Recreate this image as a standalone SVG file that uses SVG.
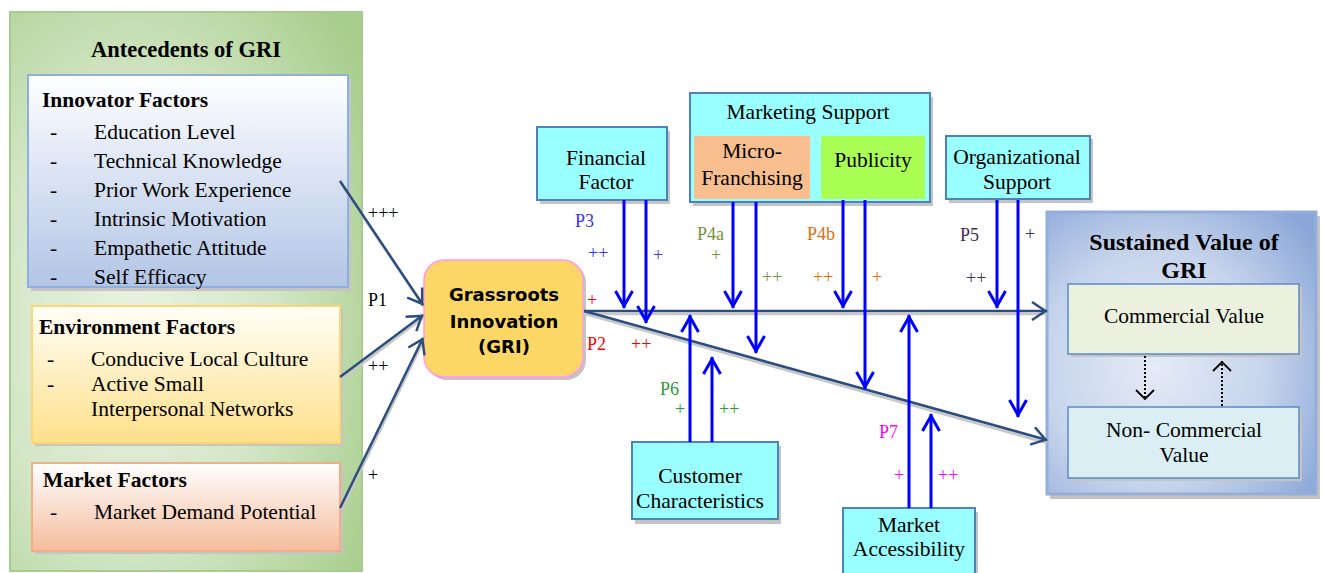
<svg xmlns="http://www.w3.org/2000/svg" width="1322" height="573" viewBox="0 0 1322 573">
<style>
text{font-family:"Liberation Serif","Times New Roman",serif;fill:#000}
.t{font-size:21.5px}
.c{text-anchor:middle}
.h{font-size:21.5px;font-weight:bold}
.lbl{font-size:18px}
.sh{fill:#C4C4C4}
.cyan{fill:#99FFFF;stroke:#4F81BD;stroke-width:2}
.nav{stroke:#2C4E7F;stroke-width:2.5;fill:none}
.navs{stroke:#C8C8C8;stroke-width:2.5;fill:none}
.blu{stroke:#0000FF;stroke-width:3;fill:none}
.dot{stroke:#000;stroke-width:2;stroke-dasharray:2 2;fill:none}
</style>
<defs>
<radialGradient id="gOuter" cx="0.35" cy="0.55" r="0.8">
<stop offset="0" stop-color="#EAF2E3"/><stop offset="0.5" stop-color="#D3E6C6"/><stop offset="1" stop-color="#A6CD8A"/>
</radialGradient>
<linearGradient id="gInn" x1="0" y1="0" x2="0" y2="1">
<stop offset="0" stop-color="#FFFFFF"/><stop offset="1" stop-color="#B2C5E6"/>
</linearGradient>
<linearGradient id="gEnv" x1="0" y1="0" x2="0" y2="1">
<stop offset="0" stop-color="#FFFEF8"/><stop offset="1" stop-color="#FFE08A"/>
</linearGradient>
<linearGradient id="gMkt" x1="0" y1="0" x2="0" y2="1">
<stop offset="0" stop-color="#FFFFFF"/><stop offset="1" stop-color="#F5BC9C"/>
</linearGradient>
<radialGradient id="gSus" cx="0.4" cy="0.55" r="0.75">
<stop offset="0" stop-color="#E4EBF6"/><stop offset="0.55" stop-color="#C6D4EC"/><stop offset="1" stop-color="#8AA6D8"/>
</radialGradient>
<marker id="mBlue" markerUnits="userSpaceOnUse" markerWidth="24" markerHeight="24" viewBox="-20 -12 24 24" refX="0" refY="0" orient="auto">
<path d="M-17,-8.5 L-2,0 L-17,8.5" stroke="#0000FF" stroke-width="3" fill="none"/>
</marker>
<marker id="mNav" markerUnits="userSpaceOnUse" markerWidth="24" markerHeight="24" viewBox="-20 -12 24 24" refX="0" refY="0" orient="auto">
<path d="M-15,-9 L-1.5,0 L-15,9" stroke="#2C4E7F" stroke-width="2.5" fill="none"/>
</marker>
<marker id="mDot" markerUnits="userSpaceOnUse" markerWidth="24" markerHeight="24" viewBox="-14 -12 16 24" refX="0" refY="0" orient="auto">
<path d="M-10,-9 L-1,0 L-10,9" stroke="#000" stroke-width="1.8" fill="none"/>
</marker>
</defs>

<rect width="1322" height="573" fill="#FFFFFF"/>

<g id="antecedents">
<rect x="10" y="12" width="352" height="559" fill="url(#gOuter)" stroke="#A8CB8E" stroke-width="2"/>
<text x="186" y="57" class="c" style="font-size:22.5px;font-weight:bold">Antecedents of GRI</text>
</g>

<g id="innovator">
<rect x="31" y="78" width="320" height="213" class="sh"/>
<rect x="28" y="75" width="320" height="212" fill="url(#gInn)" stroke="#8EB0E0" stroke-width="2"/>
<text x="42" y="107" class="h">Innovator Factors</text>
<g class="t">
<text x="50" y="139" class="t">-</text><text x="94" y="139" class="t">Education Level</text>
<text x="50" y="168" class="t">-</text><text x="94" y="168" class="t">Technical Knowledge</text>
<text x="50" y="197" class="t">-</text><text x="94" y="197" class="t">Prior Work Experience</text>
<text x="50" y="226" class="t">-</text><text x="94" y="226" class="t">Intrinsic Motivation</text>
<text x="50" y="255" class="t">-</text><text x="94" y="255" class="t">Empathetic Attitude</text>
<text x="50" y="284" class="t">-</text><text x="94" y="284" class="t">Self Efficacy</text>
</g>
</g>

<g id="environment">
<rect x="35" y="309" width="308" height="137" class="sh"/>
<rect x="32" y="306" width="308" height="137" fill="url(#gEnv)" stroke="#FAD774" stroke-width="2"/>
<text x="39" y="334" class="h">Environment Factors</text>
<text x="47" y="366" class="t">-</text><text x="91" y="366" class="t">Conducive Local Culture</text>
<text x="47" y="391" class="t">-</text><text x="91" y="391" class="t">Active Small</text>
<text x="91" y="416" class="t">Interpersonal Networks</text>
</g>

<g id="market">
<rect x="35" y="466" width="308" height="88" class="sh"/>
<rect x="32" y="463" width="308" height="88" fill="url(#gMkt)" stroke="#F4AE86" stroke-width="2"/>
<text x="43" y="487" class="h">Market Factors</text>
<text x="50" y="519" class="t">-</text><text x="94" y="519" class="t">Market Demand Potential</text>
</g>

<g id="gri">
<rect x="427" y="263" width="159" height="117" rx="20" class="sh"/>
<rect x="424" y="260" width="159" height="117" rx="20" fill="#FDD766" stroke="#FF99EE" stroke-width="1.5"/>
<g style="font-family:'DejaVu Sans',Verdana,sans-serif;font-weight:bold;font-size:18px">
<text x="504" y="301" class="c" style="font-family:'DejaVu Sans',Verdana,sans-serif">Grassroots</text>
<text x="504" y="328" class="c" style="font-family:'DejaVu Sans',Verdana,sans-serif">Innovation</text>
<text x="504" y="353" class="c" style="font-family:'DejaVu Sans',Verdana,sans-serif">(GRI)</text>
</g>
</g>

<g id="financial">
<rect x="540" y="131" width="130" height="73" class="sh"/>
<rect x="537" y="127" width="130" height="73" class="cyan"/>
<text x="606" y="165" class="t c">Financial</text>
<text x="606" y="189" class="t c">Factor</text>
</g>

<g id="marketing">
<rect x="693" y="97" width="240" height="109" class="sh"/>
<rect x="690" y="93" width="240" height="109" class="cyan"/>
<text x="808" y="119" class="t c">Marketing Support</text>
<g id="microfranchising">
<rect x="694" y="136" width="116" height="63" fill="#F8BE8E"/>
<text x="752" y="158" class="t c">Micro-</text>
<text x="752" y="185" class="t c">Franchising</text>
</g>
<g id="publicity">
<rect x="821" y="136" width="104" height="63" fill="#AAFF55"/>
<text x="873" y="167" class="t c">Publicity</text>
</g>
</g>

<g id="organizational">
<rect x="949" y="139" width="144" height="64" class="sh"/>
<rect x="946" y="136" width="144" height="63" class="cyan"/>
<text x="1017" y="164" class="t c">Organizational</text>
<text x="1017" y="189" class="t c">Support</text>
</g>

<g id="customer">
<rect x="635" y="446" width="146" height="78" class="sh"/>
<rect x="632" y="442" width="146" height="77" class="cyan"/>
<text x="700" y="483" class="t c">Customer</text>
<text x="700" y="508" class="t c">Characteristics</text>
</g>

<g id="market-access">
<rect x="846" y="512" width="132" height="70" class="sh"/>
<rect x="843" y="508" width="132" height="70" class="cyan"/>
<text x="909" y="532" class="t c">Market</text>
<text x="909" y="556" class="t c">Accessibility</text>
</g>

<g id="sustained">
<rect x="1050" y="216" width="270" height="283" class="sh"/>
<rect x="1047" y="212" width="269" height="282" fill="url(#gSus)" stroke="#93AEDA" stroke-width="3"/>
<text x="1184" y="250" class="c" style="font-size:24px;font-weight:bold">Sustained Value of</text>
<text x="1184" y="278" class="c" style="font-size:24px;font-weight:bold">GRI</text>
<g id="commercial">
<rect x="1071" y="287" width="231" height="70" class="sh"/>
<rect x="1068" y="284" width="231" height="70" fill="#EBF1DE" stroke="#5B8BC8" stroke-width="1.5"/>
<text x="1184" y="323" class="t c">Commercial Value</text>
</g>
<g id="noncommercial">
<rect x="1071" y="410" width="231" height="71" class="sh"/>
<rect x="1068" y="407" width="231" height="71" fill="#DAEEF3" stroke="#5B8BC8" stroke-width="1.5"/>
<text x="1184" y="437" class="t c">Non- Commercial</text>
<text x="1184" y="462" class="t c">Value</text>
</g>
<path d="M1145,356 L1145,400" class="dot" marker-end="url(#mDot)"/>
<path d="M1222,406 L1222,361" class="dot" marker-end="url(#mDot)"/>
</g>

<g id="connectors">
<g>
<path d="M341,184 L424,307" class="navs"/>
<path d="M341,380 L424,317" class="navs"/>
<path d="M341,511 L424,340" class="navs"/>
<path d="M585,314 L1047,314" class="navs"/>
<path d="M585,314 L1047,443" class="navs"/>
</g>
<path d="M340,181 L423,305" class="nav" marker-end="url(#mNav)"/>
<path d="M340,377 L423,315" class="nav" marker-end="url(#mNav)"/>
<path d="M340,508 L423,338" class="nav" marker-end="url(#mNav)"/>
<path d="M584,311 L1047,311" class="nav" marker-end="url(#mNav)"/>
<path d="M584,311 L1047,440" class="nav" marker-end="url(#mNav)"/>

<path d="M624,200 L624,308" class="blu" marker-end="url(#mBlue)"/>
<path d="M646,200 L646,323" class="blu" marker-end="url(#mBlue)"/>
<path d="M733,202 L733,308" class="blu" marker-end="url(#mBlue)"/>
<path d="M756,202 L756,353" class="blu" marker-end="url(#mBlue)"/>
<path d="M843,200 L843,308" class="blu" marker-end="url(#mBlue)"/>
<path d="M865,200 L865,389" class="blu" marker-end="url(#mBlue)"/>
<path d="M997,200 L997,308" class="blu" marker-end="url(#mBlue)"/>
<path d="M1018,200 L1018,417" class="blu" marker-end="url(#mBlue)"/>
<path d="M690,442 L690,315" class="blu" marker-end="url(#mBlue)"/>
<path d="M712,442 L712,357" class="blu" marker-end="url(#mBlue)"/>
<path d="M909,508 L909,315" class="blu" marker-end="url(#mBlue)"/>
<path d="M931,508 L931,414" class="blu" marker-end="url(#mBlue)"/>
</g>

<g id="labels" class="lbl">
<text x="368" y="219" class="lbl">+++</text>
<text x="368" y="306" class="lbl">P1</text>
<text x="368" y="372" class="lbl">++</text>
<text x="368" y="481" class="lbl">+</text>
<text x="587" y="306" class="lbl" style="fill:#FF0000">+</text>
<text x="587" y="350" class="lbl" style="fill:#FF0000">P2</text>
<text x="631" y="350" class="lbl" style="fill:#FF0000">++</text>
<text x="575" y="227" class="lbl" style="fill:#3333FF">P3</text>
<text x="588" y="259" class="lbl" style="fill:#3333FF">++</text>
<text x="653" y="261" class="lbl" style="fill:#3333FF">+</text>
<text x="697" y="240" class="lbl" style="fill:#77933C">P4a</text>
<text x="711" y="261" class="lbl" style="fill:#77933C">+</text>
<text x="762" y="283" class="lbl" style="fill:#77933C">++</text>
<text x="807" y="240" class="lbl" style="fill:#E36C09">P4b</text>
<text x="813" y="283" class="lbl" style="fill:#E36C09">++</text>
<text x="872" y="283" class="lbl" style="fill:#E36C09">+</text>
<text x="960" y="241" class="lbl" style="fill:#403152">P5</text>
<text x="1025" y="240" class="lbl" style="fill:#403152">+</text>
<text x="966" y="284" class="lbl" style="fill:#403152">++</text>
<text x="660" y="395" class="lbl" style="fill:#2E9A2E">P6</text>
<text x="675" y="415" class="lbl" style="fill:#2E9A2E">+</text>
<text x="719" y="415" class="lbl" style="fill:#2E9A2E">++</text>
<text x="879" y="438" class="lbl" style="fill:#FF00FF">P7</text>
<text x="894" y="481" class="lbl" style="fill:#FF00FF">+</text>
<text x="938" y="481" class="lbl" style="fill:#FF00FF">++</text>
</g>
</svg>
